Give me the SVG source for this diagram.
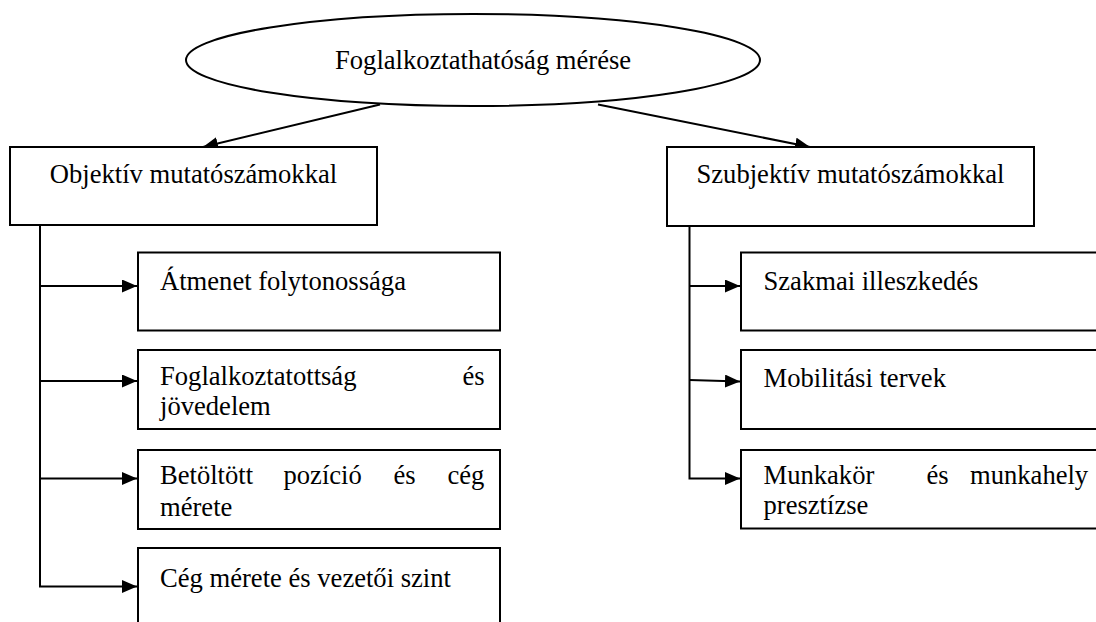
<svg xmlns="http://www.w3.org/2000/svg" width="1096" height="622" viewBox="0 0 1096 622">
  <style>
    .box { fill: #ffffff; stroke: #000000; stroke-width: 2; }
    .lbl { font-family: "Liberation Serif", "Times New Roman", serif; font-size: 26.6px; fill: #000000; }
    .mid { text-anchor: middle; }
    .wire { fill: none; stroke: #000000; stroke-width: 2; }
  </style>
  <defs>
    <marker id="arrow" markerUnits="userSpaceOnUse" markerWidth="16" markerHeight="14" refX="15" refY="6.5" orient="auto">
      <path d="M0,0 L15,6.5 L0,13 Z" fill="#000000"/>
    </marker>
  </defs>

  <rect width="1096" height="622" fill="#ffffff"/>

  <!-- top ellipse -->
  <g id="node-root">
    <ellipse class="box" cx="473" cy="60" rx="287" ry="46"/>
    <text class="lbl" x="335" y="69">Foglalkoztathatóság mérése</text>
  </g>

  <!-- connectors -->
  <g id="connectors">
    <line class="wire" x1="380" y1="104.5" x2="203" y2="147" marker-end="url(#arrow)"/>
    <line class="wire" x1="598" y1="104.5" x2="810" y2="147" marker-end="url(#arrow)"/>
    <!-- left trunk -->
    <polyline class="wire" points="40,225 40,586.5 137,586.5" marker-end="url(#arrow)"/>
    <line class="wire" x1="40" y1="286" x2="137" y2="286" marker-end="url(#arrow)"/>
    <line class="wire" x1="40" y1="381" x2="137" y2="381" marker-end="url(#arrow)"/>
    <line class="wire" x1="40" y1="478.5" x2="137" y2="478.5" marker-end="url(#arrow)"/>
    <!-- right trunk -->
    <polyline class="wire" points="689.5,226 689.5,478.5 740,478.5" marker-end="url(#arrow)"/>
    <line class="wire" x1="689.5" y1="286" x2="740" y2="286" marker-end="url(#arrow)"/>
    <line class="wire" x1="689.5" y1="380" x2="740" y2="381.5" marker-end="url(#arrow)"/>
  </g>

  <!-- level 1 -->
  <g id="node-objektiv">
    <rect class="box" x="10" y="147" width="367" height="78"/>
    <text class="lbl mid" x="193.5" y="183">Objektív mutatószámokkal</text>
  </g>
  <g id="node-szubjektiv">
    <rect class="box" x="667" y="147" width="367" height="79"/>
    <text class="lbl mid" x="850.5" y="183">Szubjektív mutatószámokkal</text>
  </g>

  <!-- objective indicators -->
  <g id="node-atmenet">
    <rect class="box" x="138" y="252.5" width="362" height="78"/>
    <text class="lbl" x="160" y="289.5">Átmenet folytonossága</text>
  </g>
  <g id="node-foglalkoztatottsag">
    <rect class="box" x="138" y="350" width="362" height="79"/>
    <text class="lbl" x="160" y="384.5">Foglalkoztatottság</text>
    <text class="lbl" x="462.5" y="384.5">és</text>
    <text class="lbl" x="160" y="415">jövedelem</text>
  </g>
  <g id="node-betoltott">
    <rect class="box" x="138" y="450" width="362" height="79"/>
    <text class="lbl" x="160" y="484">Betöltött</text>
    <text class="lbl" x="283.5" y="484">pozíció</text>
    <text class="lbl" x="393.5" y="484">és</text>
    <text class="lbl" x="447.5" y="484">cég</text>
    <text class="lbl" x="160" y="515.5">mérete</text>
  </g>
  <g id="node-ceg">
    <rect class="box" x="138" y="548" width="362" height="90"/>
    <text class="lbl" x="160" y="586.5">Cég mérete és vezetői szint</text>
  </g>

  <!-- subjective indicators -->
  <g id="node-szakmai">
    <rect class="box" x="741" y="252.5" width="370" height="78"/>
    <text class="lbl" x="763.5" y="290">Szakmai illeszkedés</text>
  </g>
  <g id="node-mobilitas">
    <rect class="box" x="741" y="350" width="370" height="79"/>
    <text class="lbl" x="763.5" y="386.5">Mobilitási tervek</text>
  </g>
  <g id="node-munkakor">
    <rect class="box" x="741" y="450" width="370" height="78.5"/>
    <text class="lbl" x="763.5" y="483.5">Munkakör</text>
    <text class="lbl" x="926.5" y="483.5">és</text>
    <text class="lbl" x="970" y="483.5">munkahely</text>
    <text class="lbl" x="763.5" y="514">presztízse</text>
  </g>
</svg>
